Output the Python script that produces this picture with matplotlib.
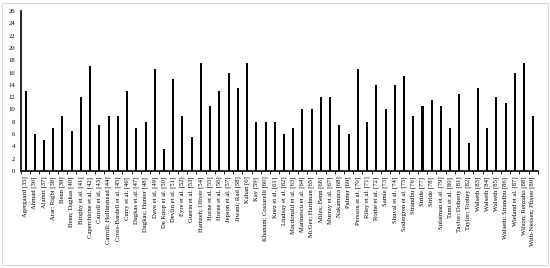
import numpy as np
import matplotlib
matplotlib.use("Agg")
import matplotlib.pyplot as plt
from matplotlib.patches import Rectangle

# studies (x-axis labels) and their scores
studies = [
    "Agergaard [35]", "Ahmad [36]", "Alamri [37]", "Arar; Rigbi [38]", "Benn [39]",
    "Benn; Dagkas [40]", "Brophy et al. [41]", "Caperchione et al. [42]",
    "Carroll et al. [43]", "Carroll; Hollinshead [44]", "Cross-Bardell et al. [45]",
    "Curry et al. [46]", "Dagkas et al. [47]", "Dagkas; Hunter [48]", "Dave et al. [49]",
    "De Knop et al. [50]", "Devlin et al. [51]", "Eyre et al. [52]", "Guerin et al. [53]",
    "Hamzeh; Oliver [54]", "Horne et al. [55]", "Horne et al. [56]", "Jepson et al. [57]",
    "Jiwani; Rail [58]", "Kahan [6]", "Kay [59]", "Khanam; Costarelli [60]",
    "Knez et al. [61]", "Lindsay et al. [62]", "Macdonald et al. [63]",
    "Marinescu et al. [64]", "McGee; Hardman [65]", "Miles; Benn [66]",
    "Murray et al. [67]", "Nakamura [68]", "Palmer [69]", "Persson et al. [70]",
    "Riley et al. [71]", "Rothe et al. [72]", "Samie [73]", "Shuval et al. [74]",
    "Sodergren et al. [75]", "Strandbu [76]", "Stride [77]", "Stride [78]",
    "Sulaiman et al. [79]", "Tami et al. [80]", "Taylor; Doherty [81]",
    "Taylor; Toohey [82]", "Walseth [83]", "Walseth [84]", "Walseth [85]",
    "Walseth; Strandbu [86]", "Wieland et al. [87]", "Wilson; Renzaho [88]",
    "With-Nielsen; Pfister [89]",
]
scores = [
    13, 6, 5, 7, 9, 6.5, 12, 17, 7.5, 9, 9, 13, 7, 8, 16.5, 3.5, 15, 9, 5.5,
    17.5, 10.5, 13, 16, 13.5, 17.5, 8, 8, 8, 6, 7, 10, 10, 12, 12, 7.5, 6,
    16.5, 8, 14, 10, 14, 15.5, 9, 10.5, 11.5, 10.5, 7, 12.5, 4.5, 13.5, 7,
    12, 11, 16, 17.5, 9,
]
yticks = list(range(0, 27, 2))

plt.rcParams["font.family"] = ["Liberation Serif", "DejaVu Serif"]

fig = plt.figure(figsize=(5.5, 2.68), dpi=100)
# light chart-area border
fig.patches.append(Rectangle((0.004, 0.011), 0.992, 0.978, transform=fig.transFigure,
                             fill=False, edgecolor="#d9d9d9", linewidth=0.8))

ax = fig.add_axes([0.038, 0.362, 0.940, 0.597])
x = np.arange(len(studies))
ax.bar(x, scores, width=0.22, color="black")

ax.set_xlim(-0.5, len(studies) - 0.5)
ax.set_ylim(0, 26)
ax.set_yticks(yticks)
ax.set_yticklabels([str(t) for t in yticks], fontsize=4.8)
ax.set_xticks(x)
ax.set_xticklabels(studies, rotation=90, fontsize=4.8)
ax.set_xticks(np.arange(-0.5, len(studies), 1), minor=True)

ax.tick_params(axis="y", length=0, pad=4)
ax.tick_params(axis="x", which="major", length=0, pad=4)
ax.tick_params(axis="x", which="minor", length=2.5, width=0.6, direction="out")

for side in ["top", "right"]:
    ax.spines[side].set_visible(False)
ax.spines["left"].set_linewidth(1.2)
ax.spines["bottom"].set_linewidth(1.2)

fig.savefig("out.png", dpi=100)
